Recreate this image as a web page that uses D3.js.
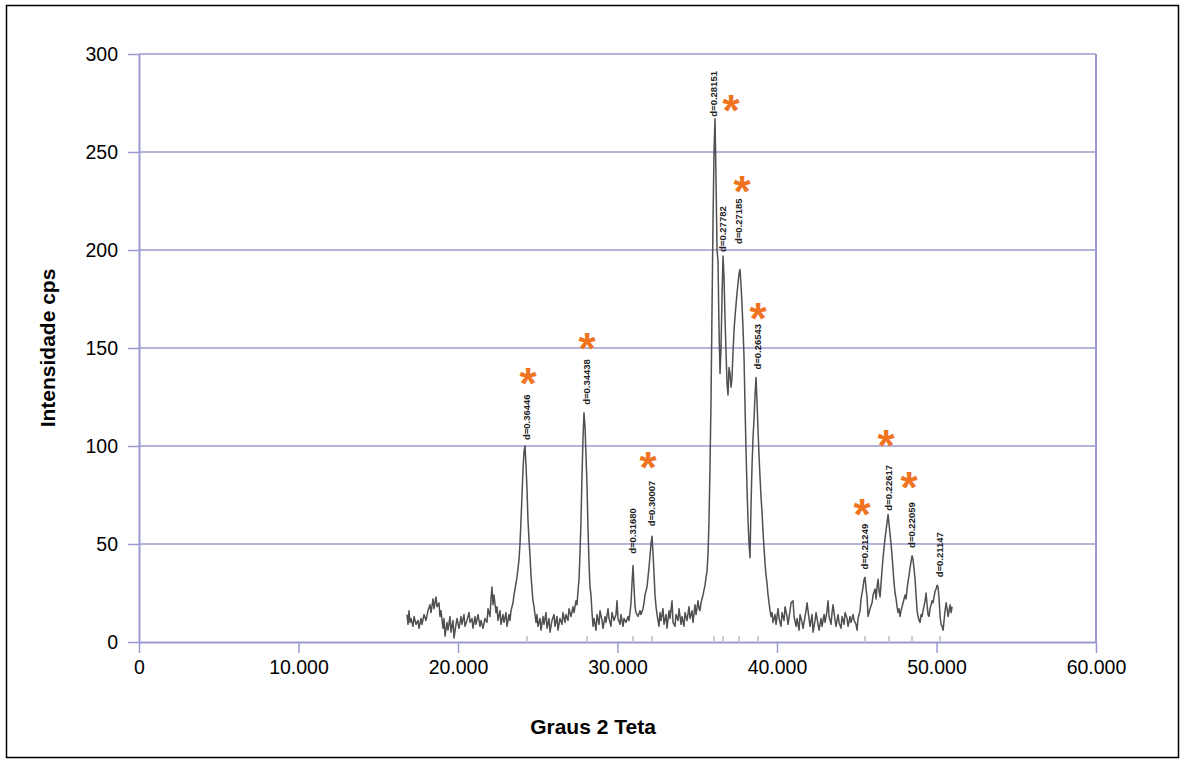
<!DOCTYPE html>
<html><head><meta charset="utf-8">
<script src="https://cdn.jsdelivr.net/npm/d3@7"></script>
<style>body{margin:0;background:#fff}svg{display:block}</style>
</head><body>
<svg id="c" width="1186" height="765"></svg>
<script>
// ---- data ----
const xTicks = [0, 10000, 20000, 30000, 40000, 50000, 60000];
const yTicks = [0, 50, 100, 150, 200, 250, 300];
const xTitle = "Graus 2 Teta";
const yTitle = "Intensidade cps";

// diffractogram trace: [2θ (axis units), intensity cps]
const pattern = [
[16803,14],[16866,9],[16928,16],[16991,10],[17054,12],[17179,8],[17242,13],[17367,9],[17492,11],[17555,7],
[17681,12],[17743,9],[17869,14],[17994,11],[18119,16],[18245,19],[18307,15],[18433,22],[18495,17],[18621,23],
[18683,18],[18809,20],[18871,13],[18934,16],[19059,7],[19122,12],[19185,3],[19310,10],[19373,6],[19498,13],
[19561,5],[19686,11],[19749,2],[19874,9],[19937,12],[20062,7],[20188,13],[20250,9],[20376,14],[20439,8],
[20564,11],[20689,15],[20752,10],[20877,12],[20940,7],[21065,13],[21128,9],[21254,14],[21379,8],[21442,11],
[21567,7],[21692,12],[21818,10],[21881,17],[22006,13],[22069,22],[22131,28],[22194,19],[22257,24],[22382,15],
[22445,18],[22508,11],[22633,16],[22696,9],[22821,14],[22884,10],[23009,15],[23072,8],[23197,14],[23260,11],
[23323,16],[23448,20],[23511,24],[23636,30],[23699,33],[23824,42],[23887,50],[23950,62],[24013,75],[24075,88],
[24138,97],[24201,100],[24264,90],[24326,78],[24389,62],[24452,52],[24515,44],[24577,34],[24640,27],[24703,21],
[24766,18],[24891,10],[24953,14],[25016,8],[25142,12],
[25204,6],[25330,13],[25392,9],[25518,15],[25580,7],[25706,12],[25769,5],[25894,11],[26019,14],[26082,8],
[26207,13],[26270,6],[26395,12],[26521,9],[26583,15],[26709,10],[26771,14],[26897,11],[26960,17],[27085,13],
[27210,18],[27273,15],[27398,21],[27461,19],[27524,26],[27587,32],[27649,45],[27712,62],[27775,85],[27838,104],
[27900,117],[27963,110],[28026,95],[28088,80],[28151,58],[28214,40],[28277,28],[28339,24],[28402,15],[28465,8],
[28528,12],[28653,6],[28715,14],[28841,9],[28904,16],[29029,11],[29092,7],[29217,13],[29280,10],[29405,17],
[29468,12],[29593,8],[29656,15],[29781,11],[29907,14],[29969,21],[30032,12],[30158,9],[30220,14],[30346,8],
[30408,12],[30534,10],[30659,13],[30722,11],[30785,15],[30847,20],[30910,30],[30973,39],[31036,28],[31098,18],
[31161,15],[31286,13],[31412,16],[31474,14],[31600,17],[31662,20],[31725,24],[31850,28],[31913,33],[31976,38],
[32039,44],[32101,50],[32164,54],[32227,45],[32290,35],[32352,24],[32415,18],[32478,14],[32603,8],[32666,15],
[32728,11],[32854,17],[32917,9],[33042,14],[33105,7],[33230,16],[33293,12],[33418,21],[33481,10],[33606,8],
[33669,14],[33794,11],[33857,17],[33983,9],[34045,13],[34171,8],[34233,15],[34359,11],[34484,18],[34547,12],
[34672,16],[34735,10],[34860,19],[34923,14],[35048,21],[35111,17],
[35174,16],[35236,20],[35362,24],[35487,29],[35550,33],[35612,36],[35675,45],[35738,62],[35801,90],[35863,123],
[35926,170],[35989,215],[36051,250],[36114,267],[36177,236],[36240,200],[36302,194],[36365,160],[36428,137],[36490,150],
[36553,176],[36616,197],[36679,186],[36741,165],[36804,148],[36867,132],[36929,126],[36992,140],[37055,137],[37118,130],
[37180,135],[37243,148],[37306,159],[37368,166],[37431,172],[37494,178],[37557,183],[37619,188],[37682,190],[37745,182],
[37808,172],[37870,160],[37933,145],[37996,120],[38058,98],[38121,78],[38184,62],[38247,50],[38309,43],[38372,70],
[38435,90],[38497,104],[38560,114],[38623,126],[38686,135],[38748,122],[38811,108],[38874,95],[38936,84],[38999,74],
[39062,66],[39125,56],[39187,48],[39250,40],[39313,34],[39375,30],[39438,24],[39501,20],[39564,16],[39626,13],
[39689,15],[39752,10],
[39877,14],[39940,9],[40065,17],[40128,12],[40253,8],[40316,15],[40442,11],[40504,18],[40630,13],[40692,9],
[40818,16],[40880,20],[41006,21],[41069,13],[41194,8],[41257,12],[41382,6],[41445,14],[41570,10],[41633,7],
[41758,13],[41821,16],[41884,20],[42009,12],[42072,8],[42197,14],[42260,5],[42386,11],[42448,15],[42574,9],
[42636,6],[42762,12],[42824,8],[42950,14],[43013,10],[43138,16],[43201,21],[43263,13],[43389,9],[43451,15],
[43514,19],[43640,11],[43702,8],[43828,14],[43890,10],[44016,7],[44078,13],[44204,9],[44267,15],[44392,12],
[44455,8],[44580,13],[44643,10],[44768,14],[44831,11],[44956,9],[45019,6],[45082,12],[45207,16],[45270,22],
[45395,28],[45458,32],[45521,33],[45583,27],[45646,23],[45709,13],[45834,17],[45960,20],[46022,24],[46148,27],
[46211,22],[46273,28],[46336,32],[46399,26],[46461,23],[46524,30],[46587,37],[46650,43],[46712,48],[46775,53],
[46838,57],[46900,61],[46963,65],[47026,60],[47089,55],[47151,50],[47214,44],[47277,37],[47339,30],[47402,25],
[47465,22],[47528,18],[47590,15],[47653,17],[47716,13],[47779,16],[47841,18],[47904,20],[48029,24],[48092,22],
[48155,27],[48218,31],[48280,34],[48343,38],[48406,41],[48468,44],[48531,42],[48594,37],[48657,32],[48719,24],
[48782,16],[48845,13],[48907,11],[48970,10],[49033,14],[49096,13],[49158,16],[49284,21],[49346,25],[49409,19],
[49472,14],[49535,13],[49597,17],[49660,19],[49723,21],[49785,20],[49848,23],[49911,26],[49974,27],[50036,29],
[50099,28],[50162,22],[50225,13],[50287,9],[50350,8],[50413,6],[50476,11],[50538,16],[50601,20],[50664,17],
[50727,13],[50789,16],[50852,19],[50915,15],[50977,18]
];

// d-spacing labels: [2θ, intensity at label foot, text]
const peakX = [24326, 28088, 30973, 32164, 36051, 36616, 37619, 38811, 45521, 47026, 48468, 50225];
const peakY = [103, 121, 45, 59, 268, 199, 203, 139, 37, 67, 48, 33];
const peakText = ["d=0.36446","d=0.34438","d=0.31680","d=0.30007","d=0.28151","d=0.27782",
                  "d=0.27185","d=0.26543","d=0.21249","d=0.22617","d=0.22059","d=0.21147"];

// orange asterisk markers: [2θ, intensity]
const starX = [24389, 28088, 31912, 37116, 37806, 38809, 45329, 46834, 48276];
const starY = [137, 155, 94, 276.5, 235, 170, 70, 105.5, 84];

// ---- drawing ----
const svg = d3.select("#c");
const M = {l:139, r:1096, t:54, b:642};
const x = d3.scaleLinear().domain([0, 60000]).range([M.l, M.r]);
const y = d3.scaleLinear().domain([0, 300]).range([M.b, M.t]);
const grid = "#9a9ad0";
const FONT = "'Liberation Sans', Arial, sans-serif";
const loc = d3.formatLocale({decimal:",", thousands:".", grouping:[3], currency:["R$",""]});
const fmt = loc.format(",d");

svg.append("rect").attr("x",0).attr("y",0).attr("width",1186).attr("height",765).attr("fill","#fff");
svg.append("rect").attr("x",6.5).attr("y",5.5).attr("width",1172).attr("height",752)
  .attr("fill","none").attr("stroke","#000").attr("stroke-width",1.5);

// gridlines
svg.append("g").selectAll("line").data(yTicks.filter(d=>d>0)).join("line")
  .attr("x1",M.l).attr("x2",M.r).attr("y1",d=>y(d)).attr("y2",d=>y(d))
  .attr("stroke",grid).attr("stroke-width",1.5);
// right border
svg.append("line").attr("x1",M.r).attr("x2",M.r).attr("y1",M.t).attr("y2",M.b)
  .attr("stroke",grid).attr("stroke-width",2);

// axes
const gx = svg.append("g").attr("transform",`translate(0,${M.b})`)
  .call(d3.axisBottom(x).tickValues(xTicks).tickFormat(fmt).tickSize(11).tickSizeOuter(0).tickPadding(7));
const gy = svg.append("g").attr("transform",`translate(${M.l},0)`)
  .call(d3.axisLeft(y).tickValues(yTicks).tickSize(11).tickSizeOuter(0).tickPadding(10));
[gx, gy].forEach(g => {
  g.select(".domain").attr("stroke",grid).attr("stroke-width",2);
  g.selectAll(".tick line").attr("stroke",grid).attr("stroke-width",1.5);
  g.selectAll(".tick text").attr("fill","#000").style("font-family",FONT).style("font-size","19.5px");
});

// baseline position marks
svg.append("g").selectAll("rect").data(peakX).join("rect")
  .attr("x",d=>x(d)-1).attr("y",y(3)).attr("width",2).attr("height",5).attr("fill","#cccccc");

// trace
svg.append("path").datum(pattern)
  .attr("d", d3.line().x(d=>x(d[0])).y(d=>y(d[1])))
  .attr("fill","none").attr("stroke","#505050").attr("stroke-width",1.5).attr("stroke-linejoin","round");

// d labels
svg.append("g").selectAll("text").data(peakX).join("text")
  .attr("transform",(d,i)=>`translate(${x(d)},${y(peakY[i])}) rotate(-90)`)
  .attr("dy","0.35em").attr("text-anchor","start")
  .style("font-family",FONT).style("font-size","9.5px").style("font-weight","bold").attr("fill","#222")
  .text((d,i)=>peakText[i]);

// asterisks
const SF = 44;
svg.append("g").selectAll("text").data(starX).join("text")
  .attr("x",d=>x(d)).attr("y",(d,i)=>y(starY[i]) + SF*0.58)
  .attr("text-anchor","middle").attr("fill","#f0731f")
  .style("font-family",FONT).style("font-size",SF+"px").style("font-weight","bold")
  .text("*");

// titles
svg.append("text").attr("x",593).attr("y",734).attr("text-anchor","middle")
  .style("font-family",FONT).style("font-size","21px").style("font-weight","bold").text(xTitle);
svg.append("text").attr("transform",`translate(55,${(M.t+M.b)/2}) rotate(-90)`).attr("text-anchor","middle")
  .style("font-family",FONT).style("font-size","21px").style("font-weight","bold").text(yTitle);
</script>
</body></html>
